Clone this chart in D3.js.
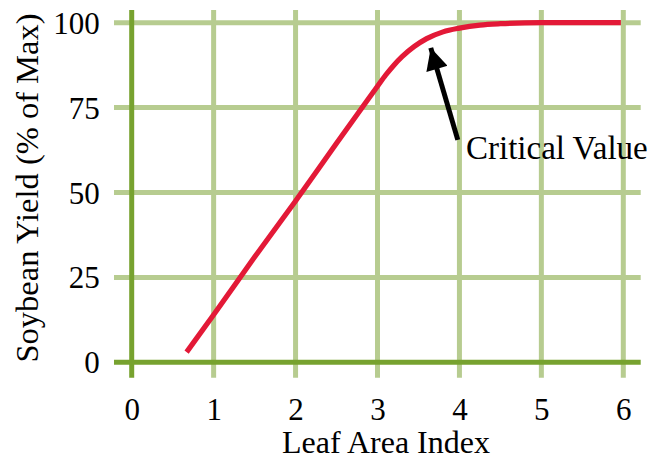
<!DOCTYPE html>
<html>
<head>
<meta charset="utf-8">
<script src="https://cdn.jsdelivr.net/npm/d3@7"></script>
<style>
  html, body { margin: 0; padding: 0; background: #ffffff; }
  svg { display: block; }
</style>
</head>
<body>
<svg id="chart" width="660" height="459"></svg>
<script>
// ---- data ----
const xTicks = [0, 1, 2, 3, 4, 5, 6];
const yTicks = [0, 25, 50, 75, 100];
const leafAreaIndex = [0.67, 1.0, 1.5, 2.0, 2.5, 2.8, 3.0, 3.1, 3.2, 3.3, 3.45, 3.6, 3.8, 4.0, 4.25, 4.5, 5.0, 5.5, 5.97];
const yieldPct      = [3.0, 14.0, 31.0, 47.5, 64.5, 74.6, 81.3, 84.6, 87.5, 90.0, 93.0, 95.3, 97.3, 98.4, 99.3, 99.7, 100, 100, 100];
const xLabel = "Leaf Area Index";
const yLabel = "Soybean Yield (% of Max)";
const annotationText = "Critical Value";
const arrowTail = [3.98, 65.5];
const arrowTip = [3.65, 92.6];
const annotationPos = [4.08, 60];

// ---- layout ----
const svg = d3.select("#chart");
const x = d3.scaleLinear().domain([0, 6]).range([131.7, 623.3]);
const y = d3.scaleLinear().domain([0, 100]).range([362.3, 22.7]);
const ext = { top: 10, bottom: 377.7, left: 114, right: 640.7 };
const gridColor = "#b7cc90";
const axisColor = "#77a22f";
const lineColor = "#e31937";
const FONT = '"Liberation Serif"';

// vertical grid lines
svg.append("g").selectAll("line")
  .data(xTicks.filter(d => d !== 0))
  .join("line")
  .attr("x1", d => x(d)).attr("x2", d => x(d))
  .attr("y1", ext.top).attr("y2", ext.bottom)
  .attr("stroke", gridColor).attr("stroke-width", 5);

// horizontal grid lines
svg.append("g").selectAll("line")
  .data(yTicks.filter(d => d !== 0))
  .join("line")
  .attr("y1", d => y(d)).attr("y2", d => y(d))
  .attr("x1", ext.left).attr("x2", ext.right)
  .attr("stroke", gridColor).attr("stroke-width", 5);

// axis lines
svg.append("line")
  .attr("x1", x(0)).attr("x2", x(0))
  .attr("y1", ext.top).attr("y2", ext.bottom)
  .attr("stroke", axisColor).attr("stroke-width", 5);
svg.append("line")
  .attr("y1", y(0)).attr("y2", y(0))
  .attr("x1", ext.left).attr("x2", ext.right)
  .attr("stroke", axisColor).attr("stroke-width", 5);

// tick labels via d3 axes
const xAxis = svg.append("g")
  .attr("transform", `translate(0,${y(0)})`)
  .call(d3.axisBottom(x).tickValues(xTicks).tickSize(0).tickPadding(36).tickFormat(d3.format("d")));
xAxis.select(".domain").remove();
xAxis.selectAll("text")
  .style("font-family", FONT)
  .style("font-size", "31px").attr("fill", "#000");

const yAxis = svg.append("g")
  .attr("transform", `translate(${x(0)},0)`)
  .call(d3.axisLeft(y).tickValues(yTicks).tickSize(0).tickPadding(32).tickFormat(d3.format("d")));
yAxis.select(".domain").remove();
yAxis.selectAll("text")
  .style("font-family", FONT)
  .style("font-size", "31px").attr("fill", "#000").attr("dy", "0.34em");

// axis titles
svg.append("text")
  .attr("x", 386).attr("y", 453)
  .attr("text-anchor", "middle")
  .style("font-family", FONT)
  .style("font-size", "32px")
  .attr("fill", "#000")
  .text(xLabel);
svg.append("text")
  .attr("transform", "translate(37.5,188) rotate(-90)")
  .attr("text-anchor", "middle")
  .style("font-family", FONT)
  .style("font-size", "32.5px")
  .attr("fill", "#000")
  .text(yLabel);

// curve
const pts = leafAreaIndex.map((v, i) => [v, yieldPct[i]]);
const line = d3.line().x(d => x(d[0])).y(d => y(d[1])).curve(d3.curveMonotoneX);
svg.append("path")
  .datum(pts)
  .attr("d", line)
  .attr("fill", "none")
  .attr("stroke", lineColor)
  .attr("stroke-width", 5.2)
  .attr("stroke-linecap", "butt")
  .attr("stroke-linejoin", "round");

// annotation arrow
const defs = svg.append("defs");
defs.append("marker")
  .attr("id", "arrowhead")
  .attr("viewBox", "0 0 10 10")
  .attr("refX", 10).attr("refY", 5)
  .attr("markerWidth", 5.6).attr("markerHeight", 4.4)
  .attr("markerUnits", "strokeWidth")
  .attr("orient", "auto")
  .append("path")
  .attr("d", "M0,0 L10,5 L0,10 Z")
  .attr("fill", "#000");

svg.append("line")
  .attr("x1", x(arrowTail[0])).attr("y1", y(arrowTail[1]))
  .attr("x2", x(arrowTip[0])).attr("y2", y(arrowTip[1]))
  .attr("stroke", "#000").attr("stroke-width", 5)
  .attr("marker-end", "url(#arrowhead)");

svg.append("text")
  .attr("x", x(annotationPos[0])).attr("y", y(annotationPos[1]))
  .style("font-family", FONT)
  .style("font-size", "33px")
  .attr("fill", "#000")
  .text(annotationText);
</script>
</body>
</html>
